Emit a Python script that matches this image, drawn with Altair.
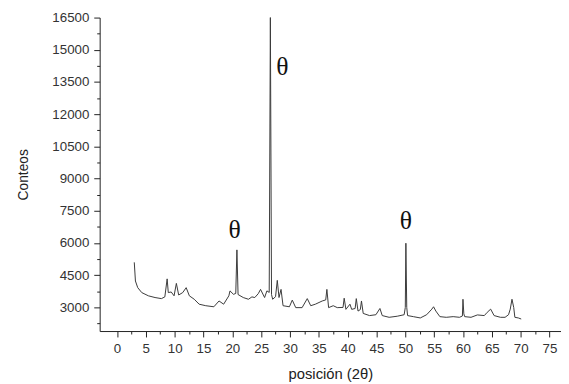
import altair as alt
import pandas as pd

# 2-theta positions and counts
two_theta = [3.0, 3.2, 3.6, 4.3, 5.45, 6.6, 7.7, 8.3, 8.7, 8.9, 9.4, 9.9, 10.3, 10.7,
             11.4, 12.0, 12.55, 13.4, 14.25, 15.4, 16.8, 17.7, 18.5, 19.4, 19.6, 20.2,
             20.6, 20.8, 21.0, 21.9, 22.8, 23.4, 23.9, 24.5, 24.9, 25.6, 26.0, 26.4,
             26.6, 26.8, 27.0, 27.5, 27.8, 28.1, 28.45, 28.8, 29.9, 30.4, 31.0, 32.1,
             33.0, 33.6, 34.4, 35.6, 36.2, 36.4, 36.7, 37.5, 38.2, 39.2, 39.4, 39.7,
             40.4, 40.7, 41.3, 41.5, 41.8, 42.2, 42.4, 42.7, 43.8, 44.9, 45.6, 46.0,
             47.2, 48.6, 49.8, 50.0, 50.1, 50.25, 50.4, 51.4, 52.6, 53.7, 54.6, 54.9,
             55.3, 56.0, 57.1, 58.3, 59.4, 59.9, 60.0, 60.15, 60.3, 61.4, 62.5, 63.7,
             64.2, 64.8, 65.4, 66.5, 67.3, 67.9, 68.2, 68.5, 68.8, 69.0, 69.6, 70.1]
counts = [5100, 4230, 3920, 3690, 3540, 3460, 3410, 3490, 4330, 3690, 3720, 3540, 4120, 3580,
          3690, 3920, 3540, 3380, 3150, 3080, 3030, 3300, 3150, 3540, 3770, 3610,
          3650, 5680, 3600, 3460, 3380, 3490, 3460, 3640, 3840, 3460, 3770, 3700,
          16500, 3600, 3380, 3500, 4260, 3460, 3840, 3080, 3030, 3340, 2990, 2990,
          3410, 3080, 3150, 3300, 3350, 3840, 2990, 3080, 2990, 3000, 3430, 2910,
          3150, 2910, 2950, 3410, 2830, 2900, 3300, 2720, 2620, 2660, 2950, 2620,
          2540, 2590, 2660, 3000, 5990, 3000, 2620, 2570, 2510, 2660, 2920, 3030,
          2830, 2570, 2540, 2570, 2540, 2600, 3380, 2700, 2570, 2540, 2650, 2620,
          2770, 2920, 2620, 2540, 2540, 2660, 2920, 3380, 3000, 2540, 2510, 2460]

# theta annotations
ann_x = [20.4, 28.7, 50.1]
ann_y = [6600, 14180, 7000]
ann_text = ["θ", "θ", "θ"]

x_ticks = [i * 2.5 for i in range(0, 31)]
y_ticks = [2250 + i * 750 for i in range(0, 20)]

df = pd.DataFrame({"x": two_theta, "y": counts})
ann = pd.DataFrame({"x": ann_x, "y": ann_y, "t": ann_text})

xscale = alt.Scale(domain=[-3, 77], nice=False, zero=False)
yscale = alt.Scale(domain=[1900, 16500], nice=False, zero=False)

xaxis = alt.Axis(
    values=x_ticks,
    labelExpr="datum.value % 5 === 0 ? datum.label : ''",
    tickSize={"condition": {"test": "datum.value % 5 === 0", "value": 6}, "value": 3},
    title="posición (2θ)",
    titleFontSize=15, titleFontWeight="normal", titleColor="#222",
    titlePadding=12,
    labelFontSize=13.5, labelColor="#333", labelPadding=5,
    labelOverlap=False,
    grid=False, domainColor="#222", tickColor="#222", labelFlush=False,
)
yaxis = alt.Axis(
    values=y_ticks,
    labelExpr="datum.value % 1500 === 0 ? datum.label : ''",
    tickSize={"condition": {"test": "datum.value % 1500 === 0", "value": 6}, "value": 3},
    title="Conteos",
    titleFontSize=14, titleFontWeight="normal", titleColor="#222",
    titlePadding=22,
    labelFontSize=13.5, labelColor="#333", labelPadding=5,
    labelOverlap=False,
    grid=False, domainColor="#222", tickColor="#222", format="d", labelFlush=False,
)

line = alt.Chart(df).mark_line(color="#3a3a3a", strokeWidth=1).encode(
    x=alt.X("x:Q", scale=xscale, axis=xaxis),
    y=alt.Y("y:Q", scale=yscale, axis=yaxis),
)

text = alt.Chart(ann).mark_text(font="Liberation Serif", fontSize=26, color="#111").encode(
    x=alt.X("x:Q", scale=xscale, axis=xaxis),
    y=alt.Y("y:Q", scale=yscale, axis=yaxis),
    text="t:N",
)

chart = (line + text).properties(
    width=468, height=318,
    autosize=alt.AutoSizeParams(type="none"),
    padding={"left": 93, "top": 7, "right": 0, "bottom": 50},
).configure_view(stroke=None).configure_axis(
    labelFont="Liberation Sans", titleFont="Liberation Sans"
)

chart.save("out.html", embed_options={"renderer": "svg", "actions": False})
